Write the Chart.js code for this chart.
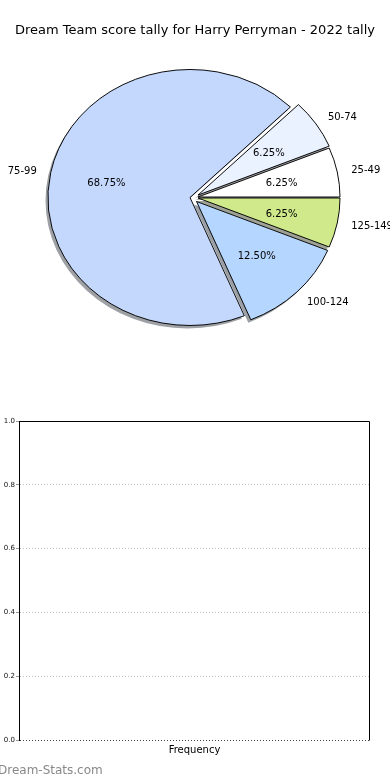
<!DOCTYPE html>
<html><head><meta charset="utf-8">
<script src="https://cdn.jsdelivr.net/npm/chart.js@4.4.1/dist/chart.umd.min.js"></script>
<style>
html,body{margin:0;padding:0;background:#fff;width:390px;height:780px;overflow:hidden;position:relative;font-family:'DejaVu Sans',sans-serif;}
#title{position:absolute;left:0;top:21px;width:390px;text-align:center;font-size:13px;line-height:18px;color:#000;white-space:nowrap;}
#pieWrap{position:absolute;left:0;top:0;width:390px;height:390px;}
#barWrap{position:absolute;left:0;top:400px;width:390px;height:380px;}
#wm{position:absolute;left:-2px;top:762px;font-size:12px;line-height:16px;color:#888;white-space:nowrap;}
</style></head>
<body>
<div id="pieWrap"><canvas id="pie" width="390" height="390"></canvas></div>
<div id="barWrap"><canvas id="bar" width="390" height="380"></canvas></div>
<div id="title"></div>
<div id="wm">Dream-Stats.com</div>
<script>
// ---- data ----
const titleText = 'Dream Team score tally for Harry Perryman - 2022 tally';
const categories = ['25-49', '50-74', '75-99', '100-124', '125-149'];
const counts = [1, 1, 11, 2, 1];
const barLabels = [];
const barValues = [];
const barAxisLabel = 'Frequency';
const yTicks = [0, 0.2, 0.4, 0.6, 0.8, 1.0];
const watermark = 'Dream-Stats.com';

// ---- styles ----
const sliceColors = ['#ffffff', '#eaf1ff', '#c4d8fe', '#b5d6fe', '#cfe98b'];
const explodeX = [8, 8, 0, 6.5, 8];      // wedge displacement, screen px
const explodeY = [-0.5, -2.4, 0, 4, 0.5];
const K = 128 / 142;          // vertical squash of the pie (ellipse)
const SHADOW = {dx: -2.5, dy: 3};
const FONT = "'DejaVu Sans', sans-serif";

document.getElementById('title').textContent = titleText;
document.getElementById('wm').textContent = watermark;

// matplotlib draws counter-clockwise from 3 o'clock; Chart.js clockwise -> reverse
const order = categories.map((_, i) => i).reverse();
const pieLabels = order.map(i => categories[i]);
const pieValues = order.map(i => counts[i]);
const pieColors = order.map(i => sliceColors[i]);
const pieShift = order.map(i => ({x: explodeX[i], y: explodeY[i]}));
const total = counts.reduce((a, b) => a + b, 0);

// exploded wedges (drawn inside the squashed context, so y is divided by K)
const ArcProto = Chart.ArcElement.prototype;
const origArcDraw = ArcProto.draw;
ArcProto.draw = function (ctx) {
  const s = this.$shift;
  if (!s) return origArcDraw.call(this, ctx);
  ctx.save();
  ctx.translate(s.x, s.y / K);
  origArcDraw.call(this, ctx);
  ctx.restore();
};

function shadowColor(hex) {
  const r = parseInt(hex.substr(1, 2), 16), g = parseInt(hex.substr(3, 2), 16), b = parseInt(hex.substr(5, 2), 16);
  return 'rgba(' + Math.round(r * 0.3) + ',' + Math.round(g * 0.3) + ',' + Math.round(b * 0.3) + ',0.5)';
}

const pieFx = {
  id: 'pieFx',
  beforeDatasetsDraw(chart) {
    const meta = chart.getDatasetMeta(0);
    const ctx = chart.ctx;
    const el0 = meta.data[0];
    const cx = el0.x, cy = el0.y;
    ctx.save();
    ctx.translate(cx, cy); ctx.scale(1, K); ctx.translate(-cx, -cy);
    meta.data.forEach((el, i) => {
      el.$shift = pieShift[i];
      const ox = el.x + el.$shift.x + SHADOW.dx;
      const oy = el.y + (el.$shift.y + SHADOW.dy) / K;
      ctx.beginPath();
      ctx.moveTo(ox, oy);
      ctx.arc(ox, oy, el.outerRadius, el.startAngle, el.endAngle);
      ctx.closePath();
      ctx.fillStyle = shadowColor(pieColors[i]);
      ctx.fill();
    });
  },
  afterDatasetsDraw(chart) {
    const ctx = chart.ctx;
    ctx.restore();
    const meta = chart.getDatasetMeta(0);
    ctx.save();
    ctx.fillStyle = '#000';
    ctx.font = '10px ' + FONT;
    ctx.textBaseline = 'middle';
    meta.data.forEach((el, i) => {
      const h = (el.startAngle + el.endAngle) / 2;
      const s = el.$shift || {x: 0, y: 0};
      const R = el.outerRadius;
      const lx = el.x + s.x + 1.1 * R * Math.cos(h);
      const ly = el.y + s.y + 1.1 * R * Math.sin(h) * K + 1;
      ctx.textAlign = Math.cos(h) > 0 ? 'left' : 'right';
      ctx.fillText(pieLabels[i], lx, ly);
      const px = el.x + s.x + 0.6 * R * Math.cos(h);
      const py = el.y + s.y + 0.6 * R * Math.sin(h) * K + 1;
      ctx.textAlign = 'center';
      ctx.fillText((pieValues[i] / total * 100).toFixed(2) + '%', px, py);
    });
    ctx.restore();
  }
};

new Chart(document.getElementById('pie'), {
  type: 'pie',
  data: {
    labels: pieLabels,
    datasets: [{
      data: pieValues,
      backgroundColor: pieColors,
      borderColor: '#000',
      borderWidth: 1,
      borderJoinStyle: 'miter',
      radius: 142,
      clip: false
    }]
  },
  options: {
    responsive: false,
    animation: false,
    events: [],
    rotation: 90,
    layout: {padding: {left: 0, right: 10, top: 55.5, bottom: 50.5}},
    plugins: {legend: {display: false}, title: {display: false}, tooltip: {enabled: false}}
  },
  plugins: [pieFx]
});

const framePlugin = {
  id: 'frame',
  afterDraw(chart) {
    const {left, top, right, bottom} = chart.chartArea;
    const ctx = chart.ctx;
    const L = Math.round(left) + 0.5, T = Math.round(top) + 0.5, Rr = Math.round(right) - 0.5, B = Math.round(bottom) + 0.5;
    ctx.save();
    ctx.strokeStyle = '#000';
    ctx.lineWidth = 1;
    ctx.beginPath();
    ctx.moveTo(L, B); ctx.lineTo(L, T); ctx.lineTo(Rr, T); ctx.lineTo(Rr, B);
    ctx.stroke();
    ctx.restore();
  }
};

new Chart(document.getElementById('bar'), {
  type: 'bar',
  data: {labels: barLabels, datasets: [{label: barAxisLabel, data: barValues, backgroundColor: '#c4d8fe'}]},
  options: {
    responsive: false,
    animation: false,
    events: [],
    layout: {padding: {left: 0, right: 20, top: 21, bottom: 0}},
    plugins: {legend: {display: false}, tooltip: {enabled: false}},
    scales: {
      x: {
        grid: {display: false},
        border: {display: false},
        ticks: {display: false},
        title: {display: true, text: barAxisLabel, color: '#000', font: {family: FONT, size: 10}, padding: {top: 0, bottom: 24}},
        afterFit(s) { s.height = 40; }
      },
      y: {
        min: 0, max: 1,
        afterBuildTicks(s) { s.ticks = yTicks.map(v => ({value: v})); },
        ticks: {callback: v => Number(v).toFixed(1), color: '#111', font: {family: FONT, size: 7}, padding: 1},
        grid: {color: c => (c.tick && c.tick.value === 0) ? '#444' : '#c4c4c4', lineWidth: 1, tickLength: 3, tickColor: '#999', tickBorderDash: []},
        border: {display: true, color: '#000', dash: [1, 2]},
        afterFit(s) { s.width = 19; }
      }
    }
  },
  plugins: [framePlugin]
});
</script>
</body></html>
